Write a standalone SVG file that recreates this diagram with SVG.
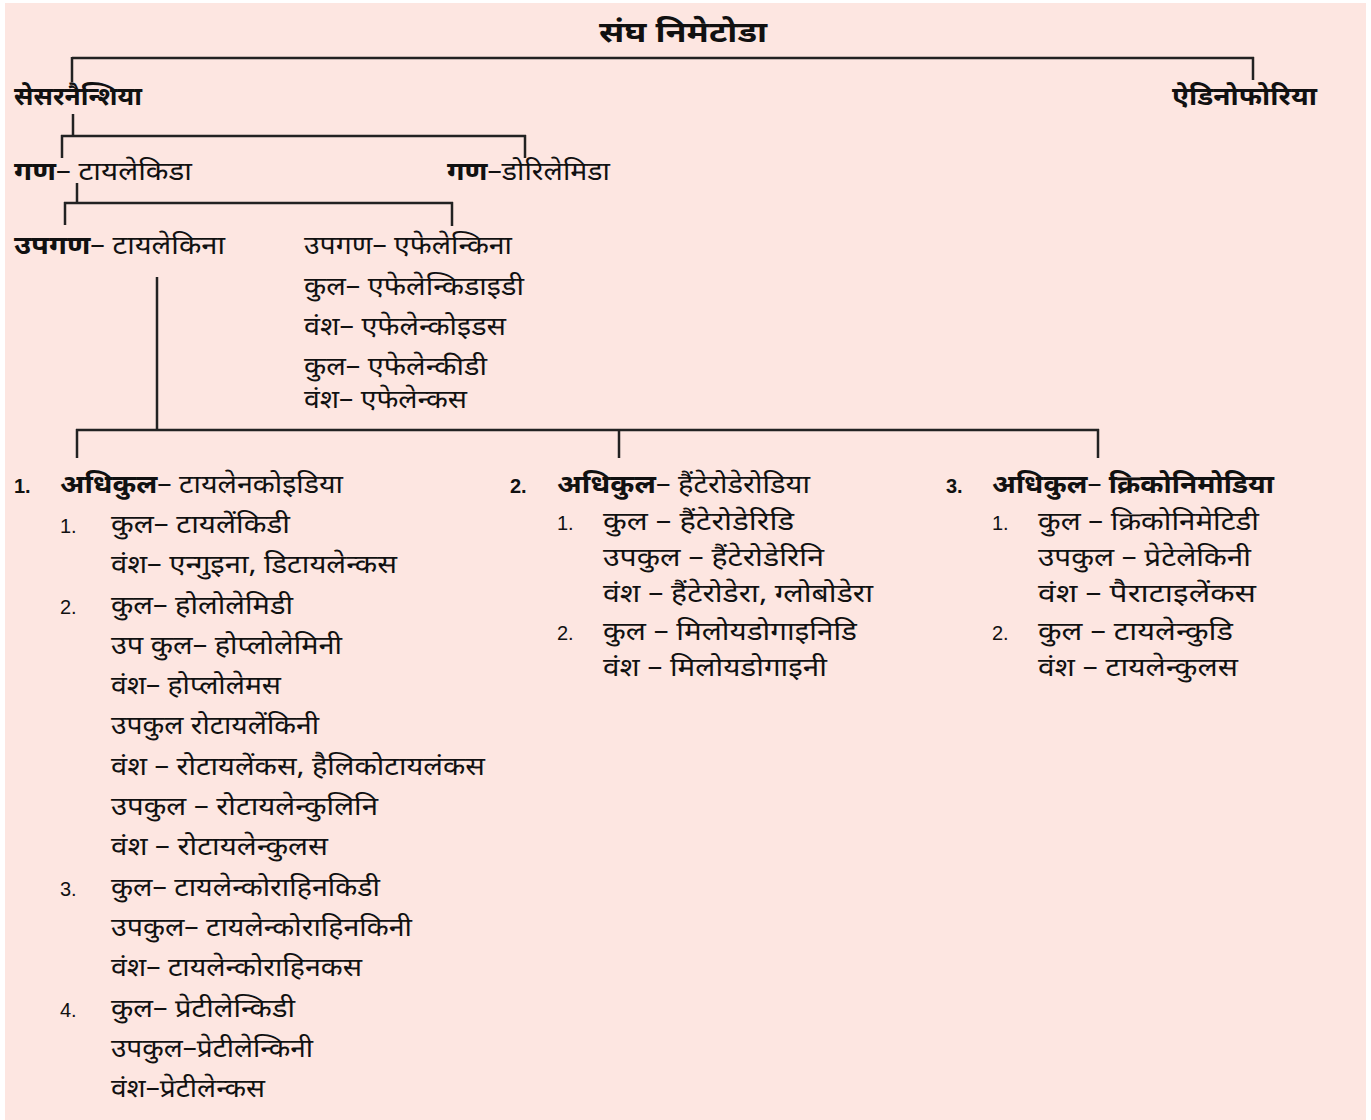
<svg xmlns="http://www.w3.org/2000/svg" width="1371" height="1120" viewBox="0 0 1371 1120">
<style>
text{font-family:"Noto Sans Devanagari","Lohit Devanagari","Noto Sans","Liberation Sans",sans-serif;font-size:25px;fill:#111}
.b{font-weight:bold}
.t{font-size:28px;font-weight:bold}
.n{font-family:"Liberation Sans",Arial,sans-serif;font-size:20px}
.nb{font-family:"Liberation Sans",Arial,sans-serif;font-size:20px;font-weight:bold}
.c line{stroke:#222;stroke-width:2.5}
</style>
<rect x="5" y="3" width="1361" height="1117" fill="#fde6e1"/>
<g class="c" id="connectors">
<line x1="72" y1="58" x2="1254" y2="58"/>
<line x1="72" y1="57" x2="72" y2="82"/>
<line x1="1253" y1="57" x2="1253" y2="80"/>
<line x1="73" y1="114" x2="73" y2="137"/>
<line x1="61" y1="136" x2="526" y2="136"/>
<line x1="62" y1="135" x2="62" y2="158"/>
<line x1="525" y1="135" x2="525" y2="158"/>
<line x1="77" y1="183" x2="77" y2="204"/>
<line x1="64" y1="203" x2="453" y2="203"/>
<line x1="65" y1="202" x2="65" y2="225"/>
<line x1="452" y1="202" x2="452" y2="226"/>
<line x1="157" y1="277" x2="157" y2="431"/>
<line x1="76" y1="430" x2="1099" y2="430"/>
<line x1="77" y1="429" x2="77" y2="458"/>
<line x1="619" y1="429" x2="619" y2="458"/>
<line x1="1098" y1="429" x2="1098" y2="458"/>
</g>
<g id="phylum"><text class="t" x="683" y="42" text-anchor="middle" textLength="168" lengthAdjust="spacingAndGlyphs">संघ निमेटोडा</text></g>
<g id="secernentea"><text class="b" x="14" y="105" textLength="128" lengthAdjust="spacingAndGlyphs">सेसरनैन्शिया</text></g>
<g id="adenophorea"><text class="b" x="1172" y="105" textLength="145" lengthAdjust="spacingAndGlyphs">ऐडिनोफोरिया</text></g>
<g id="tylenchida"><text x="14" y="180" textLength="178" lengthAdjust="spacingAndGlyphs"><tspan class="b">गण</tspan>–  टायलेकिडा</text></g>
<g id="dorylaimida"><text x="447" y="180" textLength="163" lengthAdjust="spacingAndGlyphs"><tspan class="b">गण</tspan>–डोरिलेमिडा</text></g>
<g id="tylenchina"><text x="14" y="254" textLength="211" lengthAdjust="spacingAndGlyphs"><tspan class="b">उपगण</tspan>– टायलेकिना</text></g>
<g id="aphelenchina">
<text x="304" y="254" textLength="208" lengthAdjust="spacingAndGlyphs">उपगण– एफेलेन्किना</text>
<text x="304" y="295" textLength="220" lengthAdjust="spacingAndGlyphs">कुल– एफेलेन्किडाइडी</text>
<text x="304" y="335" textLength="202" lengthAdjust="spacingAndGlyphs">वंश– एफेलेन्कोइडस</text>
<text x="304" y="375" textLength="183" lengthAdjust="spacingAndGlyphs">कुल– एफेलेन्कीडी</text>
<text x="304" y="408" textLength="163" lengthAdjust="spacingAndGlyphs">वंश– एफेलेन्कस</text>
</g>
<g id="tylenchoidea">
<text class="nb" x="14" y="493">1.</text>
<text x="60" y="493" textLength="283" lengthAdjust="spacingAndGlyphs"><tspan class="b">अधिकुल</tspan>– टायलेनकोइडिया</text>
<text class="n" x="60" y="533">1.</text>
<text x="111" y="533" textLength="179" lengthAdjust="spacingAndGlyphs">कुल– टायलेंकिडी</text>
<text x="111" y="573" textLength="286" lengthAdjust="spacingAndGlyphs">वंश– एन्गुइना, डिटायलेन्कस</text>
<text class="n" x="60" y="614">2.</text>
<text x="111" y="614" textLength="182" lengthAdjust="spacingAndGlyphs">कुल– होलोलेमिडी</text>
<text x="111" y="654" textLength="231" lengthAdjust="spacingAndGlyphs">उप कुल– होप्लोलेमिनी</text>
<text x="111" y="694" textLength="170" lengthAdjust="spacingAndGlyphs">वंश– होप्लोलेमस</text>
<text x="111" y="734" textLength="208" lengthAdjust="spacingAndGlyphs">उपकुल रोटायलेंकिनी</text>
<text x="111" y="775" textLength="374" lengthAdjust="spacingAndGlyphs">वंश – रोटायलेंकस, हैलिकोटायलंकस</text>
<text x="111" y="815" textLength="267" lengthAdjust="spacingAndGlyphs">उपकुल – रोटायलेन्कुलिनि</text>
<text x="111" y="855" textLength="217" lengthAdjust="spacingAndGlyphs">वंश – रोटायलेन्कुलस</text>
<text class="n" x="60" y="896">3.</text>
<text x="111" y="896" textLength="269" lengthAdjust="spacingAndGlyphs">कुल– टायलेन्कोराहिनकिडी</text>
<text x="111" y="936" textLength="301" lengthAdjust="spacingAndGlyphs">उपकुल– टायलेन्कोराहिनकिनी</text>
<text x="111" y="976" textLength="251" lengthAdjust="spacingAndGlyphs">वंश– टायलेन्कोराहिनकस</text>
<text class="n" x="60" y="1017">4.</text>
<text x="111" y="1017" textLength="184" lengthAdjust="spacingAndGlyphs">कुल– प्रेटीलेन्किडी</text>
<text x="111" y="1057" textLength="202" lengthAdjust="spacingAndGlyphs">उपकुल–प्रेटीलेन्किनी</text>
<text x="111" y="1097" textLength="154" lengthAdjust="spacingAndGlyphs">वंश–प्रेटीलेन्कस</text>
</g>
<g id="heteroderoidea">
<text class="nb" x="510" y="493">2.</text>
<text x="557" y="493" textLength="253" lengthAdjust="spacingAndGlyphs"><tspan class="b">अधिकुल</tspan>– हैंटेरोडेरोडिया</text>
<text class="n" x="557" y="530">1.</text>
<text x="603" y="530" textLength="191" lengthAdjust="spacingAndGlyphs">कुल – हैंटेरोडेरिडि</text>
<text x="603" y="566" textLength="221" lengthAdjust="spacingAndGlyphs">उपकुल – हैंटेरोडेरिनि</text>
<text x="603" y="602" textLength="270" lengthAdjust="spacingAndGlyphs">वंश – हैंटेरोडेरा, ग्लोबोडेरा</text>
<text class="n" x="557" y="640">2.</text>
<text x="603" y="640" textLength="254" lengthAdjust="spacingAndGlyphs">कुल – मिलोयडोगाइनिडि</text>
<text x="603" y="676" textLength="224" lengthAdjust="spacingAndGlyphs">वंश – मिलोयडोगाइनी</text>
</g>
<g id="criconematoidea">
<text class="nb" x="946" y="493">3.</text>
<text x="992" y="493" textLength="282" lengthAdjust="spacingAndGlyphs"><tspan class="b">अधिकुल</tspan>– <tspan class="b">क्रिकोनिमोडिया</tspan></text>
<text class="n" x="992" y="530">1.</text>
<text x="1038" y="530" textLength="221" lengthAdjust="spacingAndGlyphs">कुल – क्रिकोनिमेटिडी</text>
<text x="1038" y="566" textLength="213" lengthAdjust="spacingAndGlyphs">उपकुल – प्रेटेलेकिनी</text>
<text x="1038" y="602" textLength="218" lengthAdjust="spacingAndGlyphs">वंश – पैराटाइलेंकस</text>
<text class="n" x="992" y="640">2.</text>
<text x="1038" y="640" textLength="195" lengthAdjust="spacingAndGlyphs">कुल – टायलेन्कुडि</text>
<text x="1038" y="676" textLength="200" lengthAdjust="spacingAndGlyphs">वंश – टायलेन्कुलस</text>
</g>
</svg>
